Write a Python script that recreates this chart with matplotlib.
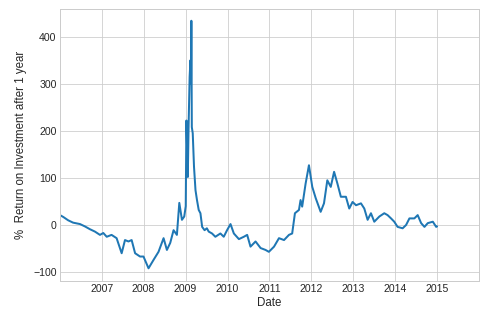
import numpy as np
import pandas as pd
import matplotlib
matplotlib.use("Agg")
import matplotlib.pyplot as plt
import matplotlib.dates as mdates

# values (1-year forward return, %)
dates = [
    "2006-01-03", "2006-02-01", "2006-03-15", "2006-04-27", "2006-06-26", "2006-08-08",
    "2006-09-21", "2006-11-03", "2006-12-17", "2007-01-15", "2007-02-14", "2007-03-28",
    "2007-05-11", "2007-06-24", "2007-07-23", "2007-08-22", "2007-09-19", "2007-10-19",
    "2007-12-01", "2007-12-31", "2008-02-13", "2008-03-28", "2008-05-10", "2008-06-23",
    "2008-07-22", "2008-08-20", "2008-09-18", "2008-10-17", "2008-11-07", "2008-11-30",
    "2008-12-20", "2009-01-02", "2009-01-08", "2009-01-15", "2009-01-20", "2009-01-27",
    "2009-02-05", "2009-02-12", "2009-02-17", "2009-02-20", "2009-02-24", "2009-03-04",
    "2009-03-15", "2009-03-28", "2009-04-10", "2009-04-25", "2009-05-10", "2009-05-25",
    "2009-06-15", "2009-07-05", "2009-07-21", "2009-08-19", "2009-09-17", "2009-10-31",
    "2009-11-29", "2009-12-28", "2010-01-27", "2010-02-25", "2010-04-10", "2010-05-23",
    "2010-06-21", "2010-07-20", "2010-09-02", "2010-10-16", "2010-11-28", "2010-12-27",
    "2011-02-10", "2011-03-25", "2011-05-08", "2011-06-20", "2011-07-18", "2011-08-11",
    "2011-09-15", "2011-09-29", "2011-10-13", "2011-11-12", "2011-12-11", "2012-01-09",
    "2012-02-08", "2012-03-22", "2012-04-20", "2012-05-19", "2012-06-18", "2012-07-17",
    "2012-08-15", "2012-09-14", "2012-10-28", "2012-11-26", "2012-12-25", "2013-01-24",
    "2013-03-08", "2013-04-06", "2013-05-05", "2013-06-03", "2013-07-02", "2013-08-15",
    "2013-09-27", "2013-10-26", "2013-11-25", "2013-12-23", "2014-01-21", "2014-03-06",
    "2014-04-05", "2014-05-04", "2014-06-16", "2014-07-15", "2014-08-14", "2014-09-12",
    "2014-10-11", "2014-11-24", "2014-12-23", "2014-12-31",
]
roi = [
    21, 17, 10, 5, 2, -3,
    -9, -14, -21, -17, -25, -21,
    -28, -60, -32, -35, -32, -60,
    -67, -67, -92, -74, -57, -28,
    -53, -38, -11, -21, 47, 11,
    18, 40, 222, 150, 102, 212,
    315, 350, 300, 434, 208, 195,
    124, 74, 53, 32, 25, -4,
    -11, -7, -14, -18, -25, -18,
    -25, -11, 2, -18, -30, -25,
    -21, -46, -35, -49, -53, -57,
    -46, -28, -32, -21, -18, 25,
    32, 53, 39, 88, 127, 81,
    57, 28, 46, 95, 81, 113,
    88, 60, 60, 35, 49, 42,
    46, 35, 11, 25, 7, 18,
    25, 21, 14, 7, -4, -7,
    0, 14, 14, 21, 4, -4,
    4, 7, -4, -3,
]
x_start, x_end = "2006-01-03", "2015-12-31"

plt.style.use("seaborn-v0_8-whitegrid")
plt.rcParams["font.family"] = ["Liberation Sans", "DejaVu Sans"]
plt.rcParams.update({"font.size": 11.5, "xtick.labelsize": 10.5, "ytick.labelsize": 10.5})

fig = plt.figure(figsize=(485 / 72, 322 / 72), dpi=72)
ax = fig.add_axes([60 / 485, 1 - 281 / 322, 419 / 485, 272 / 322])

ax.plot(pd.to_datetime(dates), roi, color="#1f77b4", lw=2.0)
ax.set_xlim(pd.Timestamp(x_start), pd.Timestamp(x_end))
ax.set_ylim(-119, 459)
ax.xaxis.set_major_locator(mdates.YearLocator())
ax.xaxis.set_major_formatter(mdates.DateFormatter("%Y"))
ax.set_xlabel("Date", labelpad=2)
ax.set_ylabel("%  Return on Investment after 1 year", labelpad=6)
for s in ax.spines.values():
    s.set_visible(True)
    s.set_color("#cccccc")

fig.savefig("out.png", dpi=72)
